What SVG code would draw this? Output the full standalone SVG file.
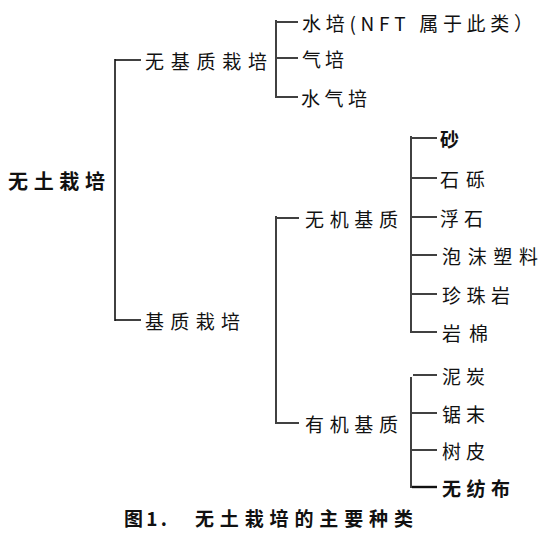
<svg xmlns="http://www.w3.org/2000/svg" width="543" height="546" viewBox="0 0 543 546">
<style>
text{font-family:"Noto Sans CJK SC","Noto Sans",sans-serif;font-size:19px;fill:#111;dominant-baseline:central}
.b{font-weight:bold;font-size:20px}
.conn line{stroke:#111;stroke-width:1.6;fill:none}
</style>
<rect width="543" height="546" fill="#fff"/>
<g class="conn" id="connectors">
<line x1="115" y1="59" x2="115" y2="321"/>
<line x1="115" y1="60" x2="141" y2="60"/>
<line x1="115" y1="320" x2="141" y2="320"/>
<line x1="276" y1="20" x2="276" y2="98"/>
<line x1="277" y1="22" x2="298" y2="22"/>
<line x1="277" y1="58" x2="298" y2="58"/>
<line x1="277" y1="97" x2="298" y2="97"/>
<line x1="276" y1="216" x2="276" y2="424"/>
<line x1="277" y1="218" x2="299" y2="218"/>
<line x1="277" y1="423" x2="299" y2="423"/>
<line x1="411" y1="136" x2="411" y2="333"/>
<line x1="412" y1="138" x2="437" y2="138"/>
<line x1="412" y1="178" x2="437" y2="178"/>
<line x1="412" y1="217" x2="437" y2="217"/>
<line x1="412" y1="255" x2="437" y2="255"/>
<line x1="412" y1="294" x2="437" y2="294"/>
<line x1="412" y1="332" x2="437" y2="332"/>
<line x1="411" y1="377" x2="411" y2="488"/>
<line x1="413" y1="375" x2="437" y2="375"/>
<line x1="412" y1="413" x2="437" y2="413"/>
<line x1="412" y1="450" x2="437" y2="450"/>
<line x1="412" y1="487" x2="437" y2="487" style="stroke-width:2.4"/>
</g>
<g id="root"><text class="b" x="8" y="180" textLength="97" lengthAdjust="spacing">无土栽培</text></g>
<g id="n-wujizhi"><text x="145" y="60" textLength="122" lengthAdjust="spacing">无基质栽培</text></g>
<g id="n-shuipei"><text x="302" y="22" textLength="231" lengthAdjust="spacing">水培(NFT 属于此类）</text></g>
<g id="n-qipei"><text x="302" y="58" textLength="42" lengthAdjust="spacing">气培</text></g>
<g id="n-shuiqipei"><text x="301" y="97" textLength="66" lengthAdjust="spacing">水气培</text></g>
<g id="n-jizhi"><text x="145" y="320" textLength="95" lengthAdjust="spacing">基质栽培</text></g>
<g id="n-wuji"><text x="305" y="218" textLength="93" lengthAdjust="spacing">无机基质</text></g>
<g id="n-youji"><text x="305" y="423" textLength="93" lengthAdjust="spacing">有机基质</text></g>
<g id="n-sha"><text class="b" x="440" y="138" style="font-size:19px">砂</text></g>
<g id="n-shili"><text x="440" y="178" textLength="45" lengthAdjust="spacing">石砾</text></g>
<g id="n-fushi"><text x="440" y="217" textLength="43" lengthAdjust="spacing">浮石</text></g>
<g id="n-paomo"><text x="442" y="255" textLength="96" lengthAdjust="spacing">泡沫塑料</text></g>
<g id="n-zhenzhu"><text x="442" y="294" textLength="68" lengthAdjust="spacing">珍珠岩</text></g>
<g id="n-yanmian"><text x="442" y="332" textLength="46" lengthAdjust="spacing">岩棉</text></g>
<g id="n-nitan"><text x="442" y="375" textLength="43" lengthAdjust="spacing">泥炭</text></g>
<g id="n-jumo"><text x="442" y="413" textLength="43" lengthAdjust="spacing">锯末</text></g>
<g id="n-shupi"><text x="442" y="450" textLength="43" lengthAdjust="spacing">树皮</text></g>
<g id="n-wufangbu"><text class="b" x="442" y="487" textLength="68" lengthAdjust="spacing" style="font-size:19px">无纺布</text></g>
<g id="caption">
<text class="b" x="124" y="517" textLength="43" lengthAdjust="spacing" style="font-size:19px">图1.</text>
<text class="b" x="195" y="517" textLength="218" lengthAdjust="spacing" style="font-size:19px">无土栽培的主要种类</text>
</g>
</svg>
